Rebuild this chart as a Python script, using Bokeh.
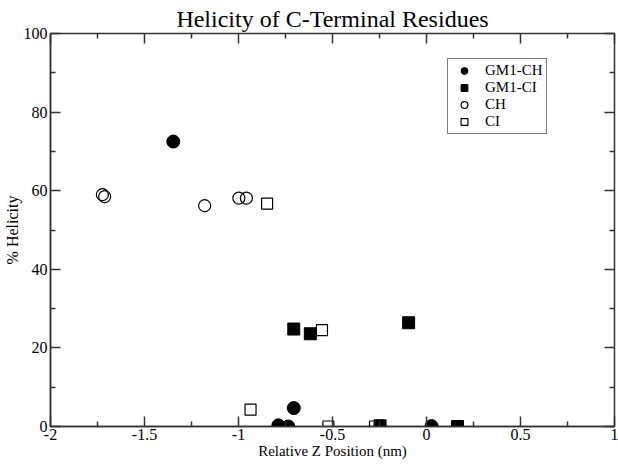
from bokeh.plotting import figure
from bokeh.models import (Range1d, LinearAxis, FixedTicker,
                          CustomJSTickFormatter, Legend, LegendItem)
from bokeh.embed import file_html
from bokeh.resources import INLINE

# ---- data ----
gm1_ch_x = [-1.347, -0.788, -0.735, -0.706, 0.027]
gm1_ch_y = [72.5, 0.3, 0.0, 4.7, 0.1]
gm1_ci_x = [-0.706, -0.618, -0.247, -0.095, 0.165]
gm1_ci_y = [24.8, 23.6, 0.2, 26.4, 0.0]
ch_x = [-1.724, -1.712, -1.180, -0.998, -0.958]
ch_y = [59.0, 58.5, 56.2, 58.1, 58.1]
ci_x = [-0.848, -0.936, -0.556, -0.522, -0.274]
ci_y = [56.7, 4.3, 24.5, 0.0, 0.0]

x_ticks = [-2, -1.5, -1, -0.5, 0, 0.5, 1]
y_ticks = [0, 20, 40, 60, 80, 100]

title_text = "Helicity of C-Terminal Residues"
x_label = "Relative Z Position (nm)"
y_label = "% Helicity"

FONT = "Liberation Serif"
AX = "#333333"

x_minor = [(a + b) / 2 for a, b in zip(x_ticks[:-1], x_ticks[1:])]
y_minor = [(a + b) / 2 for a, b in zip(y_ticks[:-1], y_ticks[1:])]

p = figure(width=618, height=464, output_backend="svg", toolbar_location=None,
           x_range=Range1d(x_ticks[0], x_ticks[-1]), y_range=Range1d(y_ticks[0], y_ticks[-1]),
           min_border_left=49, min_border_right=4, min_border_top=33, min_border_bottom=38)

p.title.text = title_text
p.title.text_font = FONT
p.title.text_font_size = "24px"
p.title.text_font_style = "normal"
p.title.text_color = "black"
p.title.align = "center"
p.title.standoff = 4

p.grid.visible = False
p.outline_line_color = AX
p.outline_line_width = 1.5
p.background_fill_color = "white"
p.border_fill_color = "white"


def base_style(ax):
    ax.major_tick_in = 10
    ax.major_tick_out = 0
    ax.minor_tick_in = 5
    ax.minor_tick_out = 0
    ax.major_tick_line_color = AX
    ax.minor_tick_line_color = AX
    ax.major_tick_line_width = 1.5
    ax.minor_tick_line_width = 1.5
    ax.axis_line_color = AX
    ax.axis_line_width = 1.5
    ax.major_label_text_font = FONT
    ax.major_label_text_font_size = "16px"
    ax.major_label_text_color = "black"
    ax.axis_label_text_font = FONT
    ax.axis_label_text_font_size = "16px"
    ax.axis_label_text_font_style = "normal"
    ax.axis_label_text_color = "black"


xa = p.xaxis[0]
base_style(xa)
xa.ticker = FixedTicker(ticks=x_ticks, minor_ticks=x_minor)
xa.formatter = CustomJSTickFormatter(code="return String(Math.round(tick*100)/100);")
xa.axis_label = x_label
xa.axis_label_text_font_size = "15px"
xa.major_label_standoff = 2
xa.axis_label_standoff = 0

ya = p.yaxis[0]
base_style(ya)
ya.ticker = FixedTicker(ticks=y_ticks, minor_ticks=y_minor)
ya.axis_label = y_label
ya.major_label_standoff = 3
ya.axis_label_standoff = 0


def mirror(ticks_minor, length):
    # label-free mirror axis: only "minor" ticks, so no labels are drawn
    ax = LinearAxis(ticker=FixedTicker(ticks=[], minor_ticks=ticks_minor))
    ax.major_tick_line_color = None
    ax.major_tick_in = 0
    ax.major_tick_out = 0
    ax.minor_tick_in = length
    ax.minor_tick_out = 0
    ax.minor_tick_line_color = AX
    ax.minor_tick_line_width = 1.5
    ax.axis_line_color = None
    ax.major_label_standoff = 0
    ax.axis_label_standoff = 0
    return ax


p.add_layout(mirror(x_ticks, 10), "above")
p.add_layout(mirror(x_minor, 5), "above")
p.add_layout(mirror(y_ticks, 10), "right")
p.add_layout(mirror(y_minor, 5), "right")

r1 = p.scatter(gm1_ch_x, gm1_ch_y, marker="circle", size=13, fill_color="black", line_color="black")
r2 = p.scatter(gm1_ci_x, gm1_ci_y, marker="square", size=12, fill_color="black", line_color="black")
r3 = p.scatter(ch_x, ch_y, marker="circle", size=12, fill_color=None, line_color="black", line_width=1.2)
r4 = p.scatter(ci_x, ci_y, marker="square", size=11, fill_color=None, line_color="black", line_width=1.2)

legend = Legend(items=[LegendItem(label="GM1-CH", renderers=[r1]),
                       LegendItem(label="GM1-CI", renderers=[r2]),
                       LegendItem(label="CH", renderers=[r3]),
                       LegendItem(label="CI", renderers=[r4])],
                location=(397, 292))
legend.label_text_font = FONT
legend.label_text_font_size = "15px"
legend.label_text_color = "black"
legend.label_height = 17
legend.glyph_height = 17
legend.glyph_width = 26
legend.spacing = 0
legend.padding = 3
legend.margin = 0
legend.label_standoff = 8
legend.border_line_color = "black"
legend.border_line_width = 1.2
legend.background_fill_alpha = 1
p.add_layout(legend, "center")

open("out.html", "w").write(file_html(p, INLINE))
